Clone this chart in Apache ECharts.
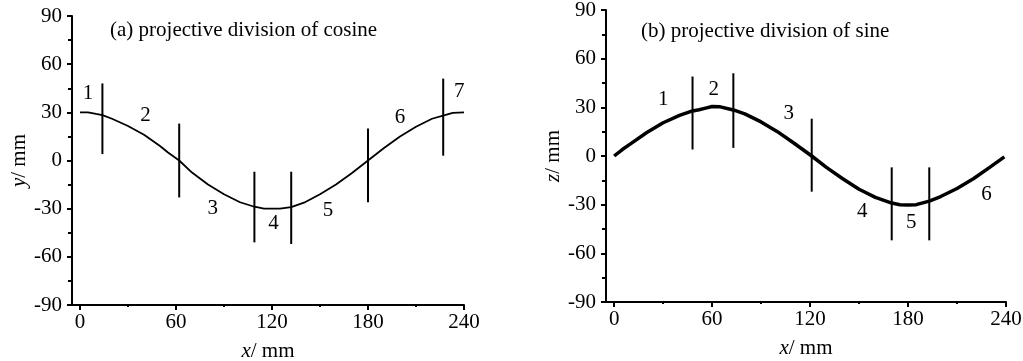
<!DOCTYPE html>
<html>
<head>
<meta charset="utf-8">
<script src="https://cdn.jsdelivr.net/npm/echarts@6/dist/echarts.min.js"></script>
<style>
  html, body { margin: 0; padding: 0; background: #fff; }
  #main { width: 1023px; height: 361px; }
</style>
</head>
<body>
<div id="main"></div>
<script>
// (a) cosine curve
var cosX = [0, 5, 10, 14, 20, 30, 40, 50, 55, 62, 70, 80, 90, 100, 109, 115, 120, 125, 132, 140, 150, 160, 170, 180, 190, 200, 210, 220, 228, 233, 240];
var cosY = [30, 30, 29, 28.3, 26, 21.5, 16, 9, 5, 0, -7.5, -15, -21, -26, -28.8, -30, -30, -30, -29, -26.3, -21, -15, -7.8, 0, 7.8, 15, 21, 26, 28.2, 29.6, 30];
// cut lines: [x, yBottom, yTop]
var cosCuts = [[14, 4, 48], [62, -23, 23], [109, -7, -51], [132, -7, -52], [180, -26, 20], [227, 3, 51]];
var cosMarks = ['1', '2', '3', '4', '5', '6', '7'];
var cosMarkPos = [[5, 42], [41, 28], [83, -30], [121, -39], [155, -31], [200, 27], [237, 43]];

// (b) sine curve
var sinX = [0, 5, 10, 20, 30, 40, 48, 52, 56, 60, 65, 73, 80, 90, 100, 110, 121, 130, 140, 150, 160, 170, 175, 180, 185, 193, 200, 210, 220, 230, 239];
var sinY = [0, 4, 7.5, 14.5, 20.5, 25, 27.8, 28.5, 29.5, 30.5, 30.3, 28.4, 26, 21, 15, 8, 0, -7, -14, -20.5, -25.5, -29, -30, -30.2, -30, -27.8, -25, -20, -14, -7, -0.5];
var sinCuts = [[48, 4, 49], [73, 5, 51], [121, -22, 23], [170, -7, -52], [193, -7, -52]];
var sinMarks = ['1', '2', '3', '4', '5', '6'];
var sinMarkPos = [[30, 35], [61, 41], [107, 26], [152, -34], [182, -41], [228, -24]];

var xMajor = [0, 60, 120, 180, 240];
var xMinor = [30, 90, 150, 210];

var font = '"Liberation Serif", "DejaVu Serif", serif';
var fs = 21;

function pairs(xs, ys) {
  return xs.map(function (x, i) { return [x, ys[i]]; });
}

function cutSeries(cuts, axisIdx) {
  return cuts.map(function (c) {
    return {
      type: 'line',
      xAxisIndex: axisIdx,
      yAxisIndex: axisIdx / 2,
      data: [[c[0], c[1]], [c[0], c[2]]],
      symbol: 'none',
      silent: true,
      lineStyle: { color: '#000', width: 2 }
    };
  });
}

function markSeries(names, pos, axisIdx) {
  return {
    type: 'scatter',
    xAxisIndex: axisIdx,
    yAxisIndex: axisIdx / 2,
    symbolSize: 1,
    silent: true,
    itemStyle: { color: '#fff', opacity: 0 },
    data: names.map(function (n, i) { return { name: n, value: pos[i] }; }),
    label: {
      show: true,
      position: 'inside',
      formatter: '{b}',
      color: '#000',
      opacity: 1,
      textBorderWidth: 0,
      fontSize: fs,
      fontFamily: font
    }
  };
}

var nameStyle = {
  color: '#000', fontSize: fs, fontFamily: font,
  rich: { i: { fontStyle: 'italic', fontSize: fs, fontFamily: font, color: '#000' } }
};

function xMain(grid, nameGap) {
  return {
    type: 'value',
    gridIndex: grid,
    position: 'bottom',
    min: -5,
    max: 240,
    name: '{i|x}/ mm',
    nameLocation: 'middle',
    nameGap: nameGap,
    nameTextStyle: nameStyle,
    axisLine: { onZero: false, lineStyle: { color: '#000', width: 2 } },
    axisTick: { customValues: xMajor, length: 5, lineStyle: { color: '#000', width: 2 } },
    axisLabel: { customValues: xMajor, color: '#000', fontSize: fs, fontFamily: font, margin: 7 },
    splitLine: { show: false }
  };
}

function xSmall(grid) {
  return {
    type: 'value',
    gridIndex: grid,
    position: 'bottom',
    min: -5,
    max: 240,
    axisLine: { show: false, onZero: false },
    axisTick: { customValues: xMinor, length: 2, lineStyle: { color: '#000', width: 2 } },
    axisLabel: { show: false },
    splitLine: { show: false }
  };
}

function yMain(grid, letter, nameGap) {
  return {
    type: 'value',
    gridIndex: grid,
    position: 'left',
    min: -90,
    max: 90,
    interval: 30,
    name: '{i|' + letter + '}/ mm',
    nameLocation: 'middle',
    nameGap: nameGap,
    nameTextStyle: nameStyle,
    axisLine: { show: true, onZero: false, lineStyle: { color: '#000', width: 2 } },
    axisTick: { show: true, length: 5, lineStyle: { color: '#000', width: 2 } },
    minorTick: { show: true, splitNumber: 2, length: 4, lineStyle: { color: '#000', width: 2 } },
    axisLabel: { color: '#000', fontSize: fs, fontFamily: font, margin: 10 },
    splitLine: { show: false },
    minorSplitLine: { show: false }
  };
}

var chart = echarts.init(document.getElementById('main'), null, { renderer: 'canvas' });

var series = [
  {
    type: 'line', xAxisIndex: 0, yAxisIndex: 0,
    data: pairs(cosX, cosY), symbol: 'none', silent: true,
    lineStyle: { color: '#000', width: 1.8 }
  },
  {
    type: 'line', xAxisIndex: 2, yAxisIndex: 1,
    data: pairs(sinX, sinY), symbol: 'none', silent: true,
    lineStyle: { color: '#000', width: 3.5 }
  }
].concat(cutSeries(cosCuts, 0), cutSeries(sinCuts, 2), [
  markSeries(cosMarks, cosMarkPos, 0),
  markSeries(sinMarks, sinMarkPos, 2)
]);

chart.setOption({
  animation: false,
  backgroundColor: '#fff',
  title: [
    {
      text: '(a) projective division of cosine',
      left: 110, top: 20, padding: 0,
      textStyle: { color: '#000', fontSize: fs, fontWeight: 'normal', fontFamily: font }
    },
    {
      text: '(b) projective division of sine',
      left: 641, top: 21, padding: 0,
      textStyle: { color: '#000', fontSize: fs, fontWeight: 'normal', fontFamily: font }
    }
  ],
  grid: [
    { left: 72, top: 16, width: 392, height: 289, outerBoundsMode: 'none' },
    { left: 606, top: 10, width: 400, height: 292, outerBoundsMode: 'none' }
  ],
  xAxis: [xMain(0, 36), xSmall(0), xMain(1, 36), xSmall(1)],
  yAxis: [yMain(0, 'y', 42), yMain(1, 'z', 42)],
  series: series
});
</script>
</body>
</html>
